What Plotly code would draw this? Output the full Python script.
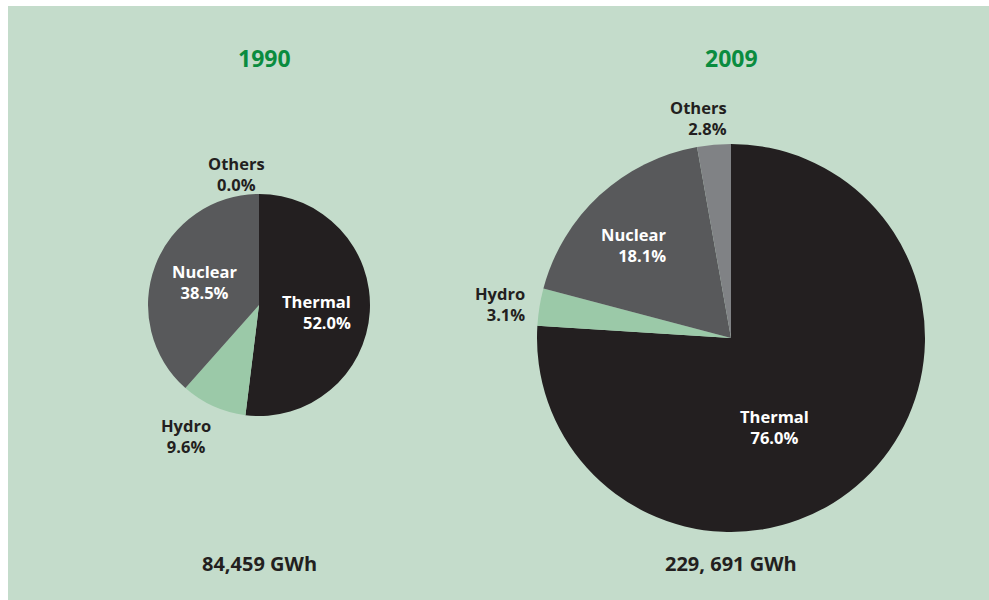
import plotly.graph_objects as go

# ---- data ----
sources = ["Thermal", "Hydro", "Nuclear", "Others"]
share_1990 = [52.0, 9.6, 38.5, 0.0]
share_2009 = [76.0, 3.1, 18.1, 2.8]
years = ["1990", "2009"]
totals = ["84,459 GWh", "229, 691 GWh"]

colors = ["#231f20", "#9bc9a8", "#58595b", "#808285"]
BG = "#c4dccb"
W, H = 989, 600


def px_dom(x0, x1, y0, y1):
    return dict(x=[x0 / W, x1 / W], y=[1 - y1 / H, 1 - y0 / H])


fig = go.Figure()
for vals, dom in [(share_1990, px_dom(148, 370, 194, 416)),
                  (share_2009, px_dom(537, 925, 144, 532))]:
    fig.add_trace(go.Pie(
        labels=sources, values=vals, sort=False, direction="clockwise",
        rotation=0, textinfo="none", hoverinfo="label+percent",
        marker=dict(colors=colors, line=dict(width=0)),
        domain=dom, showlegend=False,
    ))

FONT = "Open Sans"
ann = []


def txt(x, y, s, color, size, xanchor="center", align="center"):
    ann.append(dict(
        x=x / W, y=1 - y / H, xref="paper", yref="paper",
        text=s, showarrow=False, borderpad=0,
        xanchor=xanchor, yanchor="middle", align=align,
        font=dict(family=FONT, size=size, color=color)))


def lab(x, y, i, vals, color, xanchor):
    txt(x, y + 10, f"<b>{sources[i]}</b><br><b>{vals[i]:.1f}%</b>",
        color, 16.5, xanchor, "center" if xanchor == "center" else "right")


DARK = "#231f20"
WHITE = "#ffffff"
# 1990 labels
lab(236, 164, 3, share_1990, DARK, "center")
lab(204, 272, 2, share_1990, WHITE, "center")
lab(352, 302, 0, share_1990, WHITE, "right")
lab(186, 426, 1, share_1990, DARK, "center")
# 2009 labels
lab(728, 108, 3, share_2009, DARK, "right")
lab(667, 235, 2, share_2009, WHITE, "right")
lab(526, 294, 1, share_2009, DARK, "right")
lab(774, 417, 0, share_2009, WHITE, "center")

for x, yr in [(264, years[0]), (731, years[1])]:
    txt(x, 58, f"<b>{yr}</b>", "#0a8c3f", 23)
for x, tot in [(259, totals[0]), (731, totals[1])]:
    txt(x, 563, f"<b>{tot}</b>", DARK, 20)

fig.update_layout(
    width=W, height=H, margin=dict(l=0, r=0, t=0, b=0),
    paper_bgcolor="#ffffff", plot_bgcolor="#ffffff",
    shapes=[dict(type="rect", xref="paper", yref="paper",
                 x0=8 / W, x1=1, y0=0, y1=1 - 6 / H,
                 fillcolor=BG, line=dict(width=0), layer="below")],
    annotations=ann,
)

fig.write_html("out.html", config={"displayModeBar": False},
               post_script="document.body.style.margin='0';document.body.style.overflow='hidden';")
